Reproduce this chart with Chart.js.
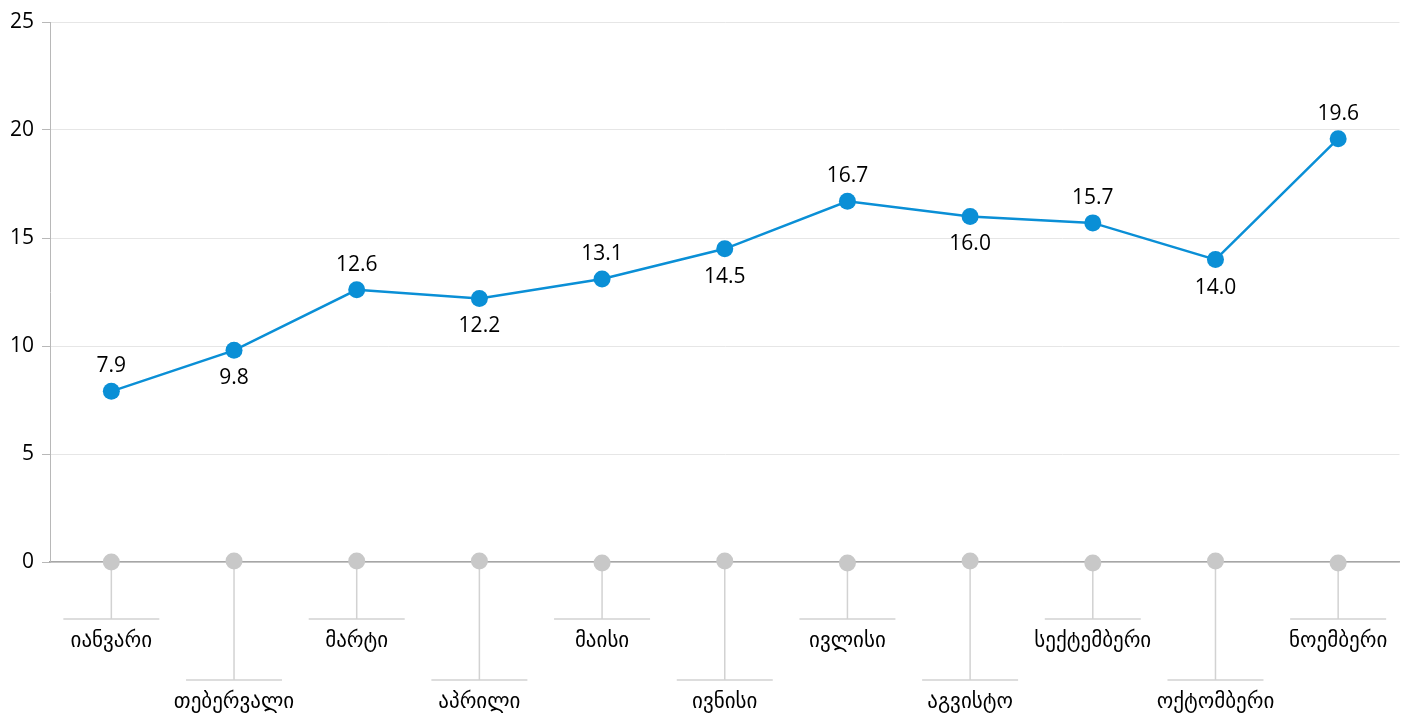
<!DOCTYPE html>
<html>
<head>
<meta charset="utf-8">
<script src="https://cdn.jsdelivr.net/npm/chart.js@4/dist/chart.umd.min.js"></script>
<style>
  html, body { margin: 0; padding: 0; background: #fff; }
  #wrap { width: 1408px; height: 720px; }
</style>
</head>
<body>
<div id="wrap"><canvas id="chart" width="1408" height="720"></canvas></div>
<script>
const months = ['იანვარი', 'თებერვალი', 'მარტი', 'აპრილი', 'მაისი', 'ივნისი',
  'ივლისი', 'აგვისტო', 'სექტემბერი', 'ოქტომბერი', 'ნოემბერი'];
const values = [7.9, 9.8, 12.6, 12.2, 13.1, 14.5, 16.7, 16.0, 15.7, 14.0, 19.6];
const baseline = [0, 0.05, 0.05, 0.05, -0.05, 0.05, -0.05, 0.05, -0.05, 0.05, -0.05];
const yTicks = [0, 5, 10, 15, 20, 25];

const FONT = '"Open Sans", "DejaVu Sans", sans-serif';

// value labels, alternating above / below the point
const valueLabels = {
  id: 'valueLabels',
  afterDatasetsDraw(chart) {
    const ctx = chart.ctx;
    const meta = chart.getDatasetMeta(0);
    ctx.save();
    ctx.font = '21px ' + FONT;
    ctx.fillStyle = '#000';
    ctx.textAlign = 'center';
    ctx.textBaseline = 'middle';
    meta.data.forEach((pt, i) => {
      const dy = i % 2 === 0 ? -25 : 28;
      ctx.fillText(values[i].toFixed(1), pt.x, pt.y + dy);
    });
    ctx.restore();
  }
};

// stems and month labels under the axis, in two staggered rows
const monthStems = {
  id: 'monthStems',
  beforeDatasetsDraw(chart) {
    const ctx = chart.ctx;
    const meta = chart.getDatasetMeta(1);
    const bottom = chart.chartArea.bottom;
    ctx.save();
    ctx.strokeStyle = '#d2d2d2';
    ctx.lineWidth = 1.5;
    ctx.font = '21px ' + FONT;
    ctx.fillStyle = '#000';
    ctx.textAlign = 'center';
    ctx.textBaseline = 'middle';
    meta.data.forEach((pt, i) => {
      const lineY = i % 2 === 0 ? bottom + 57 : bottom + 118;
      ctx.beginPath();
      ctx.moveTo(pt.x, pt.y);
      ctx.lineTo(pt.x, lineY);
      ctx.moveTo(pt.x - 48, lineY);
      ctx.lineTo(pt.x + 48, lineY);
      ctx.stroke();
      ctx.fillText(months[i], pt.x, lineY + 22);
    });
    ctx.restore();
  }
};

new Chart(document.getElementById('chart'), {
  type: 'line',
  data: {
    labels: months,
    datasets: [
      {
        data: values,
        borderColor: '#0a8fd6',
        backgroundColor: '#0a8fd6',
        borderWidth: 2.5,
        pointRadius: 8.5,
        pointHoverRadius: 8.5,
        pointBorderWidth: 0,
        tension: 0
      },
      {
        data: baseline,
        showLine: false,
        backgroundColor: '#c8c8c8',
        borderColor: '#c8c8c8',
        pointRadius: 8.5,
        pointHoverRadius: 8.5,
        pointBorderWidth: 0,
        clip: false
      }
    ]
  },
  options: {
    responsive: false,
    animation: false,
    layout: { padding: { top: 22, right: 1, bottom: 158, left: 0 } },
    plugins: {
      legend: { display: false },
      tooltip: { enabled: false }
    },
    scales: {
      x: {
        offset: true,
        ticks: { display: false },
        grid: { display: false, drawTicks: false },
        border: { display: true, color: '#a6a6a6', width: 1.5 },
        afterFit: (scale) => { scale.height = 0; }
      },
      y: {
        min: 0,
        max: 25,
        afterBuildTicks: (scale) => { scale.ticks = yTicks.map(v => ({ value: v })); },
        ticks: {
          font: { family: FONT, size: 21 },
          color: '#000',
          padding: 8
        },
        grid: { color: '#e6e6e6', tickColor: '#b8b8b8', tickLength: 8, lineWidth: 1 },
        border: { display: true, color: '#b8b8b8', width: 1 },
        afterFit: (scale) => { scale.width = 50; }
      }
    }
  },
  plugins: [monthStems, valueLabels]
});
</script>
</body>
</html>
